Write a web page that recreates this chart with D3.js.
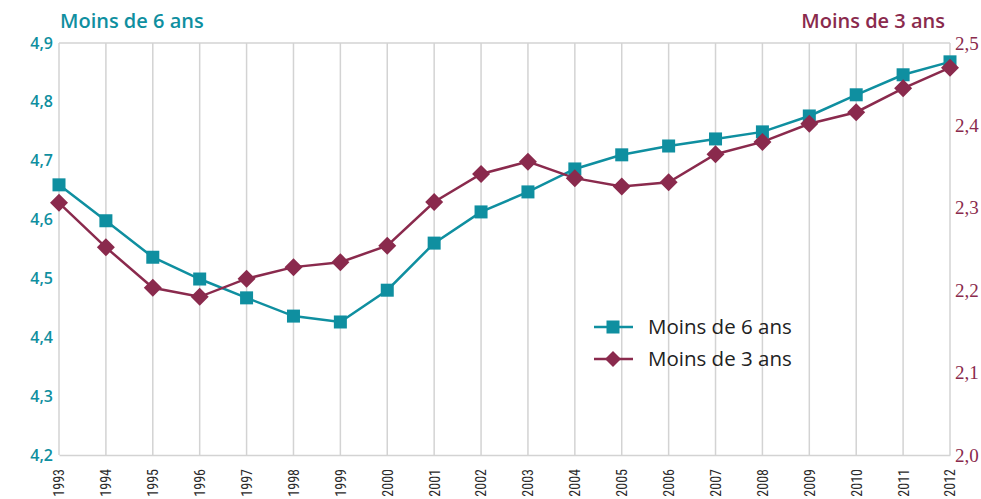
<!DOCTYPE html>
<html><head><meta charset="utf-8">
<script src="https://cdn.jsdelivr.net/npm/d3@7"></script>
<style>body{margin:0;background:#fff}svg{display:block}</style>
</head><body>
<svg id="c" width="981" height="499"></svg>
<script>
const years = [1993,1994,1995,1996,1997,1998,1999,2000,2001,2002,2003,2004,2005,2006,2007,2008,2009,2010,2011,2012];
const moins6 = [4.659,4.598,4.536,4.499,4.467,4.436,4.426,4.480,4.560,4.613,4.647,4.686,4.710,4.725,4.737,4.749,4.776,4.812,4.846,4.868];
const moins3 = [2.306,2.252,2.203,2.192,2.214,2.228,2.234,2.254,2.307,2.341,2.356,2.336,2.326,2.331,2.365,2.380,2.402,2.416,2.445,2.470];
const leftTicks = [4.2,4.3,4.4,4.5,4.6,4.7,4.8,4.9];
const rightTicks = [2.0,2.1,2.2,2.3,2.4,2.5];
const labels = {left:"Moins de 6 ans", right:"Moins de 3 ans"};

const teal = "#0f8fa0", maroon = "#8a2a4d";
const svg = d3.select("#c");
const L = 59, R = 950, T = 43, B = 455;
const x = d3.scalePoint().domain(years).range([L, R]);
const yL = d3.scaleLinear().domain([4.2, 4.9]).range([B, T]);
const yR = d3.scaleLinear().domain([2.0, 2.5]).range([B, T]);
const fmt = d => d.toFixed(1).replace(".", ",");
const sans = "'Open Sans', Lato, sans-serif";

// grid
svg.append("g").selectAll("line").data(years).join("line")
  .attr("x1", d => x(d)).attr("x2", d => x(d)).attr("y1", T).attr("y2", B)
  .attr("stroke", "#d3d3d3").attr("stroke-width", 1.5);
svg.append("line").attr("x1", L).attr("x2", R).attr("y1", T).attr("y2", T).attr("stroke", "#d3d3d3").attr("stroke-width", 1.5);

// x axis
const xa = svg.append("g").attr("transform", `translate(0,${B})`).call(d3.axisBottom(x).tickSize(0).tickPadding(0));
xa.select(".domain").attr("stroke", "#d3d3d3").attr("stroke-width", 1.5);
xa.selectAll("text")
  .attr("transform", "rotate(-90)").attr("x", -14).attr("y", 0).attr("dy", "0.35em")
  .attr("text-anchor", "end").attr("font-family", "'Liberation Sans Narrow','Roboto Condensed','Liberation Sans',sans-serif")
  .attr("font-size", 14).attr("fill", "#2a2a2a");

// left axis
const la = svg.append("g").attr("transform", `translate(${L},0)`).call(d3.axisLeft(yL).tickValues(leftTicks).tickFormat(fmt).tickSize(0).tickPadding(6));
la.select(".domain").remove();
la.selectAll("text").attr("font-family", sans).attr("font-weight", 600).attr("font-size", 16).attr("fill", teal);

// right axis
const ra = svg.append("g").attr("transform", `translate(${R},0)`).call(d3.axisRight(yR).tickValues(rightTicks).tickFormat(fmt).tickSize(0).tickPadding(5));
ra.select(".domain").remove();
ra.selectAll("text").attr("font-family", "'Liberation Serif','DejaVu Serif',serif").attr("font-size", 19).attr("fill", maroon);

// titles
svg.append("text").attr("x", 60).attr("y", 28).text(labels.left)
  .attr("font-family", sans).attr("font-weight", 600).attr("font-size", 20).attr("fill", teal);
svg.append("text").attr("x", 945).attr("y", 28).attr("text-anchor", "end").text(labels.right)
  .attr("font-family", sans).attr("font-weight", 600).attr("font-size", 20).attr("fill", maroon);

// lines
const line6 = d3.line().x((d, i) => x(years[i])).y(d => yL(d));
const line3 = d3.line().x((d, i) => x(years[i])).y(d => yR(d));
svg.append("path").attr("d", line6(moins6)).attr("fill", "none").attr("stroke", teal).attr("stroke-width", 2.5);
svg.append("path").attr("d", line3(moins3)).attr("fill", "none").attr("stroke", maroon).attr("stroke-width", 2.5);

const sq = 13, dm = 9;
svg.append("g").selectAll("rect").data(moins6).join("rect")
  .attr("x", (d, i) => x(years[i]) - sq / 2).attr("y", d => yL(d) - sq / 2)
  .attr("width", sq).attr("height", sq).attr("fill", teal);
svg.append("g").selectAll("path").data(moins3).join("path")
  .attr("transform", (d, i) => `translate(${x(years[i])},${yR(d)})`)
  .attr("d", `M0,${-dm}L${dm},0L0,${dm}L${-dm},0Z`).attr("fill", maroon);

// legend
const lg = svg.append("g");
const rows = [{name: labels.left, c: teal, s: "sq"}, {name: labels.right, c: maroon, s: "dm"}];
rows.forEach((r, i) => {
  const yy = 327 + i * 32;
  lg.append("line").attr("x1", 594).attr("x2", 633).attr("y1", yy).attr("y2", yy).attr("stroke", r.c).attr("stroke-width", 2.5);
  if (r.s === "sq") lg.append("rect").attr("x", 613 - 6.5).attr("y", yy - 6.5).attr("width", 13).attr("height", 13).attr("fill", r.c);
  else lg.append("path").attr("transform", `translate(613,${yy})`).attr("d", `M0,-8L8,0L0,8L-8,0Z`).attr("fill", r.c);
  lg.append("text").attr("x", 648).attr("y", yy).attr("dy", "0.35em").text(r.name)
    .attr("font-family", sans).attr("font-weight", 500).attr("font-size", 20.5).attr("fill", "#222");
});
</script>
</body></html>
